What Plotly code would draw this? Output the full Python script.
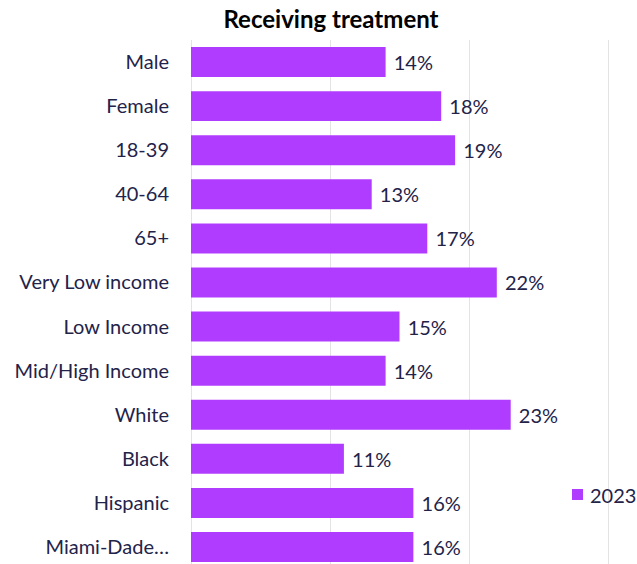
import plotly.graph_objects as go

categories = ["Male", "Female", "18-39", "40-64", "65+", "Very Low income", "Low Income",
              "Mid/High Income", "White", "Black", "Hispanic", "Miami-Dade…"]
values_2023 = [14, 18, 19, 13, 17, 22, 15, 14, 23, 11, 16, 16]
series_name = "2023"

BAR = "#b03cff"
TXT = "#23234a"
FONT = "Lato"

W, H = 637, 564
L, R, T, B = 191, 27, 40, 0
PW, PH = W - L - R, H - T - B
XMAX = 30 * PW / 417.0  # 30% gridline lands just inside the plot edge


def px(x):
    return (x - L) / PW


def py(y):
    return (H - B - y) / PH


fig = go.Figure()
fig.add_trace(go.Bar(
    y=categories, x=values_2023, orientation="h", name=series_name,
    marker=dict(color=BAR, line=dict(width=0)),
    width=0.68,
    text=[f"{v}%" for v in values_2023],
    texttemplate=" %{text}",
    textposition="outside",
    textfont=dict(family=FONT, size=20, color=TXT),
    cliponaxis=False,
    showlegend=False,
))

# legend drawn manually (swatch + label) so it does not squeeze the plot area
fig.add_shape(type="rect", xref="paper", yref="paper",
              x0=px(572), x1=px(583), y0=py(500), y1=py(489),
              fillcolor=BAR, line=dict(width=0))
fig.add_annotation(xref="paper", yref="paper", x=px(588), y=py(494.5),
                   xanchor="left", yanchor="middle", showarrow=False,
                   text=series_name, font=dict(family=FONT, size=20, color=TXT))

fig.update_layout(
    width=W, height=H,
    margin=dict(l=L, r=R, t=T, b=B, pad=0),
    paper_bgcolor="white", plot_bgcolor="white",
    font=dict(family=FONT, size=20, color=TXT),
    title=dict(text="<b>Receiving treatment</b>", x=331/637, xanchor="center",
               y=1 - 20/564, yanchor="middle",
               font=dict(family=FONT, size=24, color="#000000")),
    xaxis=dict(range=[0, XMAX], dtick=10, showticklabels=False, showgrid=True,
               gridcolor="#e3e3e3", gridwidth=1, zeroline=True, zerolinecolor="#e3e3e3",
               zerolinewidth=1, showline=False, fixedrange=True, automargin=False),
    yaxis=dict(categoryorder="array", categoryarray=categories,
               range=[11.385, -0.5], showgrid=False, showline=False,
               ticks="", ticklabelstandoff=21, automargin=False,
               tickfont=dict(family=FONT, size=20, color=TXT)),
    showlegend=False,
    bargap=0.32,
)

fig.write_html("out.html", config={"displayModeBar": False},
               post_script="document.body.style.margin='0';document.body.style.padding='0';")
